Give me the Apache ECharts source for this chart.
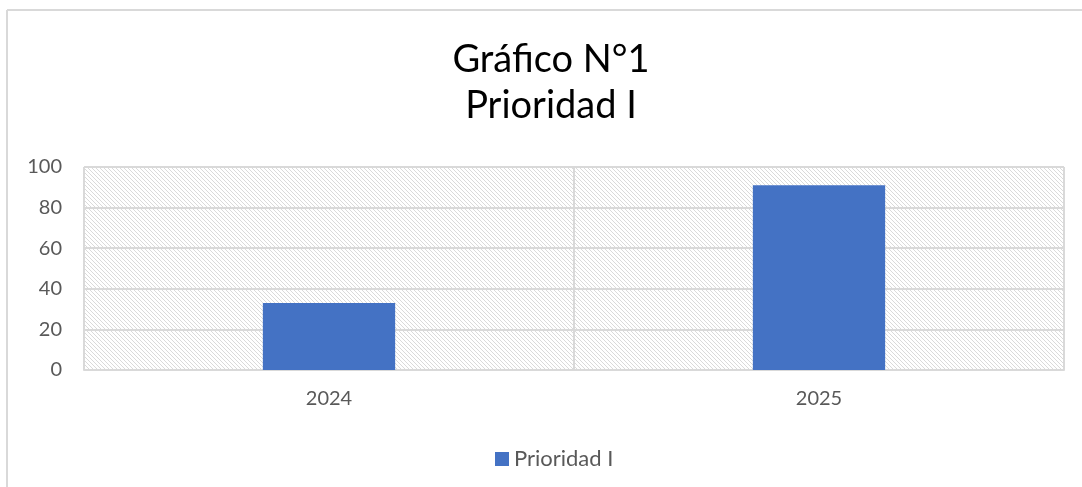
<!DOCTYPE html>
<html>
<head>
<meta charset="utf-8">
<script src="https://cdn.jsdelivr.net/npm/echarts@6/dist/echarts.min.js"></script>
<style>
  html, body { margin: 0; padding: 0; background: #fff; }
  #main { width: 1082px; height: 487px; }
</style>
</head>
<body>
<div id="main"></div>
<script>
var categories = ['2024', '2025'];
var prioridad = [33, 91];
var yTicks = [0, 20, 40, 60, 80, 100];

// light downward diagonal hatch, like the Excel plot area fill
function hatch() {
    var c = document.createElement('canvas');
    c.width = 4;
    c.height = 4;
    var ctx = c.getContext('2d');
    ctx.fillStyle = '#ffffff';
    ctx.fillRect(0, 0, 4, 4);
    ctx.fillStyle = '#dadada';
    for (var i = 0; i < 4; i++) {
        ctx.fillRect(i, i, 1, 1);
    }
    return { image: c, repeat: 'repeat' };
}

var myChart = echarts.init(document.getElementById('main'));
var option = {
    backgroundColor: '#ffffff',
    textStyle: { fontFamily: 'Lato' },
    title: {
        text: 'Gráfico N°1\nPrioridad I',
        left: 546,
        top: 32,
        textAlign: 'center',
        textStyle: {
            fontFamily: 'Lato',
            fontSize: 38,
            fontWeight: 'normal',
            color: '#000000',
            lineHeight: 46
        }
    },
    legend: {
        data: ['Prioridad I'],
        left: 490,
        top: 443,
        icon: 'rect',
        itemWidth: 14,
        itemHeight: 14,
        itemGap: 10,
        textStyle: { fontFamily: 'Lato', fontSize: 22, color: '#595959' }
    },
    grid: {
        left: 84,
        right: 18,
        top: 167,
        bottom: 117,
        show: true,
        borderWidth: 0,
        backgroundColor: hatch()
    },
    xAxis: {
        type: 'category',
        data: categories,
        axisTick: { show: false },
        axisLine: { lineStyle: { color: '#d9d9d9', width: 2 } },
        axisLabel: { margin: 19, fontSize: 20, color: '#595959', fontFamily: 'Lato' },
        splitLine: { show: true, lineStyle: { color: '#d9d9d9', width: 2 } }
    },
    yAxis: {
        type: 'value',
        min: yTicks[0],
        max: yTicks[yTicks.length - 1],
        interval: yTicks[1] - yTicks[0],
        axisLine: { show: false },
        axisTick: { show: false },
        axisLabel: { margin: 22, fontSize: 20, color: '#595959', fontFamily: 'Lato' },
        splitLine: { lineStyle: { color: '#d9d9d9', width: 2 } }
    },
    graphic: [
        {
            type: 'line',
            shape: { x1: 7, y1: 10, x2: 1082, y2: 10 },
            style: { stroke: '#d9d9d9', lineWidth: 2 }
        },
        {
            type: 'line',
            shape: { x1: 7, y1: 10, x2: 7, y2: 487 },
            style: { stroke: '#d9d9d9', lineWidth: 2 }
        }
    ],
    series: [{
        name: 'Prioridad I',
        type: 'bar',
        data: prioridad,
        barWidth: '27%',
        itemStyle: { color: '#4472C4' }
    }]
};

myChart.setOption(option);
</script>
</body>
</html>
